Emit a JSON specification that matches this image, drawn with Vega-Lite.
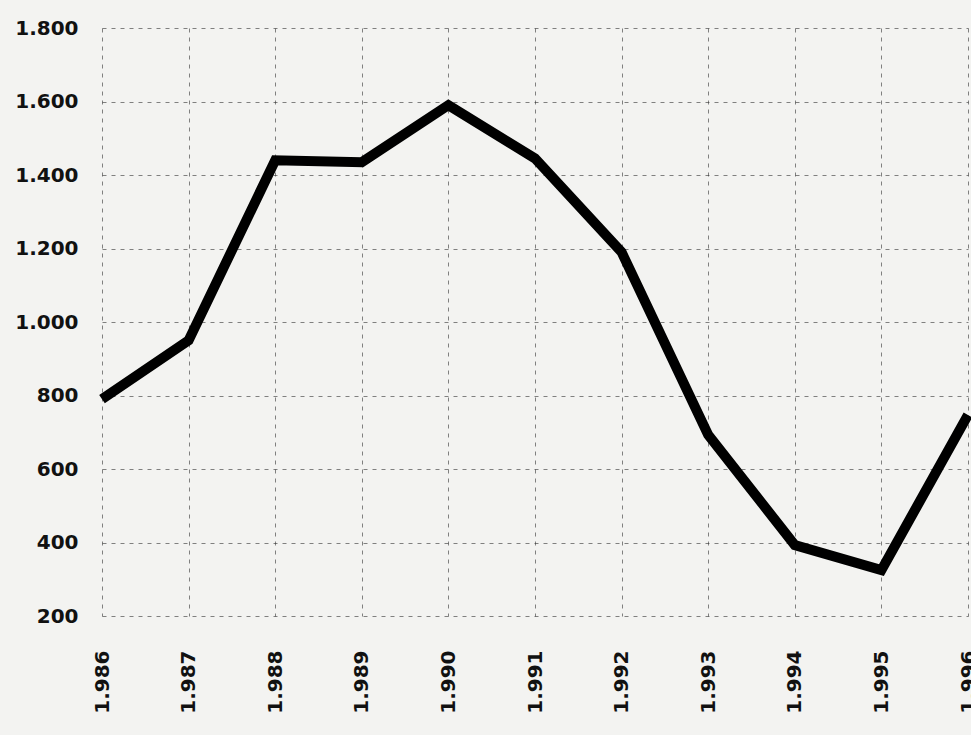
{
  "$schema": "https://vega.github.io/schema/vega-lite/v6.json",
  "width": 866,
  "height": 588,
  "autosize": {"type": "none"},
  "padding": {"left": 102, "top": 28, "right": 3, "bottom": 119},
  "background": "#f3f3f1",
  "config": {
    "view": {"stroke": null},
    "axis": {
      "labelFont": "DejaVu Sans",
      "labelFontSize": 20,
      "labelFontWeight": "bold",
      "labelColor": "#111111",
      "domain": false,
      "ticks": false,
      "gridColor": "#333333",
      "gridWidth": 1,
      "gridDash": [4, 5],
      "gridOpacity": 0.6
    }
  },
  "data": {
    "values": [
      {"year": 1986, "value": 790},
      {"year": 1987, "value": 950},
      {"year": 1988, "value": 1440},
      {"year": 1989, "value": 1435},
      {"year": 1990, "value": 1590},
      {"year": 1991, "value": 1445},
      {"year": 1992, "value": 1190},
      {"year": 1993, "value": 693},
      {"year": 1994, "value": 393},
      {"year": 1995, "value": 325},
      {"year": 1996, "value": 747}
    ]
  },
  "mark": {"type": "line", "color": "#000000", "strokeWidth": 10, "strokeJoin": "miter", "clip": false},
  "encoding": {
    "x": {
      "field": "year",
      "type": "quantitative",
      "scale": {"domain": [1986, 1996], "nice": false, "zero": false},
      "axis": {
        "title": null,
        "values": [1986, 1987, 1988, 1989, 1990, 1991, 1992, 1993, 1994, 1995, 1996],
        "labelExpr": "replace(format(datum.value, ','), ',', '.')",
        "labelAngle": -90,
        "labelPadding": 34,
        "labelBaseline": "middle",
        "labelAlign": "right",
        "labelFlush": false,
        "labelOverlap": false
      }
    },
    "y": {
      "field": "value",
      "type": "quantitative",
      "scale": {"domain": [200, 1800], "nice": false, "zero": false},
      "axis": {
        "title": null,
        "values": [200, 400, 600, 800, 1000, 1200, 1400, 1600, 1800],
        "labelExpr": "replace(format(datum.value, ','), ',', '.')",
        "labelPadding": 24,
        "labelFlush": false,
        "labelOverlap": false
      }
    }
  }
}
